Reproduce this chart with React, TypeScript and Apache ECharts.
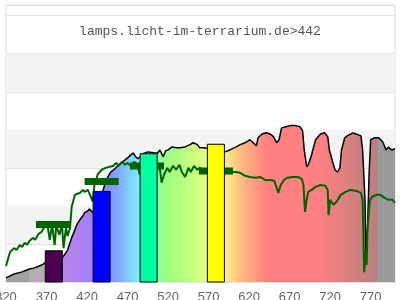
import React, { useEffect, useRef } from "react";
import * as echarts from "echarts";

const TITLE = "lamps.licht-im-terrarium.de>442";

// reference spectrum (black outline) [nm, relative intensity]
const SUN: [number, number][] = [
  [320, 0.11], [330, 0.21], [339, 0.26], [349, 0.34], [355, 0.37], [361, 0.42], [366, 0.47],
  [370, 0.53], [380, 0.58], [389, 0.63], [392, 0.71], [396, 0.84], [401, 1.16], [405, 1.37],
  [408, 1.53], [411, 1.63], [415, 1.74], [417, 1.82], [421, 1.87], [423, 1.92], [426, 1.84],
  [430, 1.9], [438, 2.3], [444, 2.7], [449, 2.89], [454, 2.97], [460, 3.1], [467, 3.21],
  [470, 3.26], [474, 3.34], [477, 3.39], [480, 3.29], [483, 3.24], [490, 3.38], [495, 3.42],
  [502, 3.4], [507, 3.39], [510, 3.47], [514, 3.29], [517, 3.45], [520, 3.47], [525, 3.55],
  [530, 3.53], [535, 3.53], [541, 3.55], [547, 3.61], [551, 3.66], [556, 3.61], [559, 3.53],
  [564, 3.53], [570, 3.5], [578, 3.48], [585, 3.44], [590, 3.42], [594, 3.45], [599, 3.5],
  [604, 3.55], [609, 3.61], [615, 3.66], [619, 3.71], [621, 3.74], [625, 3.66], [629, 3.58],
  [631, 3.79], [636, 3.89], [641, 3.92], [646, 3.89], [650, 3.82], [654, 3.66], [657, 3.74],
  [660, 4.05], [665, 4.08], [671, 4.11], [677, 4.11], [683, 4.08], [686, 3.97], [688, 3.47],
  [691, 3.03], [693, 3.08], [697, 3.34], [702, 3.74], [708, 3.89], [713, 3.92], [717, 3.82],
  [719, 3.47], [723, 3.16], [726, 2.95], [729, 2.89], [732, 3.0], [734, 3.47], [738, 3.79],
  [741, 3.84], [748, 3.92], [752, 3.89], [758, 3.84], [760, 3.47], [763, 2.16], [764, 0.84],
  [766, 1.37], [768, 2.82], [770, 3.74], [775, 3.79], [780, 3.79], [785, 3.68], [789, 3.47],
  [792, 3.55], [796, 3.47], [800, 3.5],
];

// lamp spectrum (green line) [nm, relative intensity]
const LAMP: [number, number][] = [
  [320, 0.42], [325, 0.79], [330, 0.89], [333, 0.84], [337, 0.97], [340, 0.92], [343, 1.03],
  [346, 0.98], [349, 1.08], [353, 1.16], [356, 1.11], [360, 1.26], [364, 1.32], [368, 1.47],
  [371, 1.53], [374, 1.11], [377, 1.5], [380, 0.97], [382, 1.47], [386, 1.24], [389, 1.53],
  [391, 0.89], [394, 1.42], [396, 1.21], [399, 1.42], [401, 1.97], [405, 2.29], [408, 2.32],
  [411, 2.34], [415, 2.42], [417, 2.37], [421, 2.42], [423, 2.32], [427, 2.11], [429, 2.53],
  [433, 2.82], [438, 2.95], [443, 3.0], [448, 3.03], [452, 3.05], [456, 3.13], [459, 3.05],
  [463, 3.16], [467, 3.08], [470, 3.13], [474, 3.05], [478, 3.16], [482, 3.08], [485, 2.82],
  [495, 3.05], [507, 3.08], [510, 2.95], [512, 2.61], [515, 2.82], [519, 3.0], [522, 2.89],
  [526, 3.05], [530, 2.95], [534, 3.08], [537, 2.89], [541, 2.76], [545, 3.0], [548, 2.89],
  [552, 3.05], [556, 2.95], [559, 3.0], [564, 2.95], [578, 2.93], [590, 2.95], [596, 2.89],
  [603, 2.89], [609, 2.87], [615, 2.79], [621, 2.76], [628, 2.74], [634, 2.76], [640, 2.68],
  [646, 2.68], [651, 2.66], [654, 2.47], [656, 2.34], [659, 2.55], [663, 2.68], [667, 2.74],
  [674, 2.76], [680, 2.76], [685, 2.71], [687, 2.55], [689, 1.84], [691, 2.16], [693, 2.37],
  [697, 2.42], [702, 2.5], [708, 2.55], [714, 2.53], [717, 2.42], [718, 1.76], [720, 2.16],
  [724, 2.03], [728, 2.11], [733, 2.29], [739, 2.37], [745, 2.42], [753, 2.39], [758, 2.34],
  [760, 2.16], [762, 0.26], [764, 0.84], [765, 0.45], [766, 1.37], [769, 2.16], [772, 2.24],
  [777, 2.29], [782, 2.29], [787, 2.21], [792, 2.16], [797, 2.16], [800, 2.08],
];

// bars: center nm, height
const BAR_CENTERS = [379, 438, 496, 579];
const BAR_VALUES = [0.82, 2.38, 3.37, 3.62];
const BAR_COLORS = ["#4b0050", "#0000ff", "#00ffa0", "#ffff00"];
const BAR_HALF_NM = 10.5;

// green markers: center nm, level
const MARK_CENTERS = [378, 438, 494, 579];
const MARK_VALUES = [1.51, 2.64, 3.05, 2.92];
const MARK_HALF_NM = 21;

const X_MIN = 320;
const X_MAX = 800;

// fill gradient stops [nm, colour]
const GRADIENT: [number, string][] = [
  [320, "#a0a0a0"], [348, "#a0a0a0"], [349, "#b4acb4"], [369, "#b4acb4"], [380, "#b486dc"],
  [392, "#b486e6"], [410, "#b080f0"], [428, "#a080ff"], [448, "#8890ff"], [455, "#80a0ff"],
  [470, "#80c8ff"], [485, "#80eeff"], [500, "#80ffc0"], [507, "#90ffa0"], [520, "#a0ff80"],
  [540, "#b8ff80"], [560, "#d8ff80"], [570, "#e8ff80"], [589, "#fff080"], [595, "#ffe088"],
  [605, "#ffc880"], [620, "#ffa880"], [635, "#ff9080"], [642, "#ff8080"], [705, "#ff8080"],
  [778, "#b88080"], [779, "#9a9a9a"], [800, "#9a9a9a"],
];

export default function App() {
  const ref = useRef<HTMLDivElement>(null);
  useEffect(() => {
    if (!ref.current) return;
    const chart = echarts.init(ref.current, null, { renderer: "svg" });
    const stops = GRADIENT.map(([nm, c]) => ({ offset: (nm - X_MIN) / (X_MAX - X_MIN), color: c }));
    chart.setOption({
      animation: false,
      title: {
        text: TITLE,
        left: "center",
        top: 25,
        padding: 0,
        textStyle: { fontFamily: "Liberation Mono", fontSize: 13, fontWeight: "normal", color: "#555" },
      },
      grid: {
        left: 6, right: 5, top: 5, bottom: 18,
        outerBoundsMode: "none",
        containLabel: false,
        show: true, borderColor: "#dcdcdc", borderWidth: 1,
      },
      xAxis: {
        type: "value",
        min: X_MIN,
        max: X_MAX,
        interval: 50,
        axisLine: { show: false },
        axisTick: { show: false },
        splitLine: { show: false },
        axisLabel: { showMaxLabel: false, hideOverlap: false, color: "#666", fontSize: 13, fontFamily: "Liberation Sans", margin: 8 },
      },
      yAxis: {
        type: "value",
        min: 0,
        max: 7.28,
        interval: 1,
        axisLine: { show: false },
        axisTick: { show: false },
        axisLabel: { show: false },
        splitLine: { show: true, lineStyle: { color: "#e2e2e2", width: 1 } },
      },
      series: [
        {
          type: "line",
          data: SUN,
          showSymbol: false,
          z: 2,
          lineStyle: { color: "#000", width: 1.5 },
          areaStyle: { color: new echarts.graphic.LinearGradient(0, 0, 1, 0, stops), opacity: 1 },
          markArea: {
            silent: true,
            itemStyle: { color: "#f3f3f3" },
            data: [
              [{ yAxis: 1 }, { yAxis: 2 }],
              [{ yAxis: 3 }, { yAxis: 4 }],
              [{ yAxis: 5 }, { yAxis: 6 }],
            ],
          },
        },
        {
          type: "line",
          data: LAMP,
          showSymbol: false,
          z: 3,
          lineStyle: { color: "#006400", width: 2 },
        },
        {
          type: "custom",
          z: 4,
          data: MARK_CENTERS.map((c, i) => [c, MARK_VALUES[i]]),
          renderItem: (params: any, api: any) => {
            const c = api.value(0);
            const v = api.value(1);
            const p0 = api.coord([c - MARK_HALF_NM, v]);
            const p1 = api.coord([c + MARK_HALF_NM, v]);
            return {
              type: "rect",
              shape: { x: p0[0], y: p0[1] - 3.5, width: p1[0] - p0[0], height: 7 },
              style: { fill: "#006400" },
            };
          },
        },
        {
          type: "custom",
          z: 5,
          data: BAR_CENTERS.map((c, i) => [c, BAR_VALUES[i]]),
          renderItem: (params: any, api: any) => {
            const c = api.value(0);
            const v = api.value(1);
            const p0 = api.coord([c - BAR_HALF_NM, v]);
            const p1 = api.coord([c + BAR_HALF_NM, 0]);
            return {
              type: "rect",
              shape: { x: p0[0], y: p0[1], width: p1[0] - p0[0], height: p1[1] - p0[1] },
              style: { fill: BAR_COLORS[params.dataIndex], stroke: "#000", lineWidth: 1 },
            };
          },
        },
      ],
    });
    return () => chart.dispose();
  }, []);
  return <div ref={ref} style={{ position: "fixed", left: 0, top: 0, width: 400, height: 300 }} />;
}
